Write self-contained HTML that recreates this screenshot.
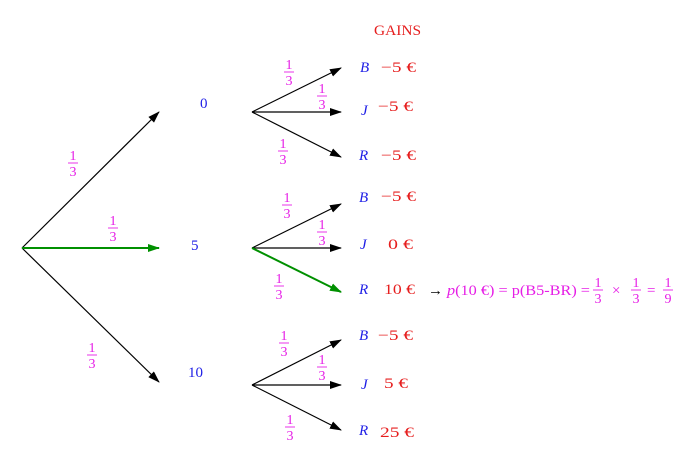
<!DOCTYPE html>
<html><head><meta charset="utf-8"><style>
html,body{margin:0;padding:0;background:#fff}
svg{display:block}
text{font-family:"Liberation Serif",serif;font-size:15px}
.m{fill:#e61ee6}.b{fill:#1e1ee6}.r{fill:#e61e1e}
.f text{font-size:14px;text-anchor:middle;fill:#e61ee6}
</style></head><body>
<svg width="689" height="456" viewBox="0 0 689 456" xmlns="http://www.w3.org/2000/svg">
<defs>
<marker id="ak" markerWidth="12" markerHeight="8" refX="11" refY="4" orient="auto" markerUnits="userSpaceOnUse"><path d="M0,0 L12,4 L0,8 Z" fill="#000"/></marker>
<marker id="ag" markerWidth="12" markerHeight="8" refX="11" refY="4" orient="auto" markerUnits="userSpaceOnUse"><path d="M0,0 L12,4 L0,8 Z" fill="#009000"/></marker>
<g id="fr" class="f"><text x="0" y="-3">1</text><line x1="-5" y1="0" x2="5" y2="0" stroke="#e61ee6" stroke-width="0.9"/><text x="0" y="13">3</text></g>
</defs>
<g stroke="#000" stroke-width="1.2" fill="none">
<line x1="22" y1="248" x2="159" y2="112" marker-end="url(#ak)"/>
<line x1="22" y1="248" x2="159" y2="382" marker-end="url(#ak)"/>
<line x1="252" y1="112" x2="341" y2="68" marker-end="url(#ak)"/>
<line x1="252" y1="112" x2="341" y2="112" marker-end="url(#ak)"/>
<line x1="252" y1="112" x2="341" y2="157" marker-end="url(#ak)"/>
<line x1="252" y1="248" x2="341" y2="204" marker-end="url(#ak)"/>
<line x1="252" y1="248" x2="341" y2="248" marker-end="url(#ak)"/>
<line x1="252" y1="385" x2="341" y2="340" marker-end="url(#ak)"/>
<line x1="252" y1="385" x2="341" y2="385" marker-end="url(#ak)"/>
<line x1="252" y1="385" x2="341" y2="430" marker-end="url(#ak)"/>
</g>
<g stroke="#009000" stroke-width="2" fill="none">
<line x1="22" y1="248" x2="159" y2="248" marker-end="url(#ag)"/>
<line x1="252" y1="248" x2="341" y2="292" marker-end="url(#ag)"/>
</g>
<use href="#fr" x="73" y="163"/>
<use href="#fr" x="113" y="228"/>
<use href="#fr" x="92" y="355"/>
<use href="#fr" x="289" y="72"/>
<use href="#fr" x="322" y="96"/>
<use href="#fr" x="283" y="151"/>
<use href="#fr" x="287" y="205"/>
<use href="#fr" x="322" y="232"/>
<use href="#fr" x="279" y="286"/>
<use href="#fr" x="284" y="343"/>
<use href="#fr" x="322" y="367"/>
<use href="#fr" x="290" y="427"/>
<text class="b" x="200" y="108" font-size="16">0</text>
<text class="b" x="191" y="250" font-size="16">5</text>
<text class="b" x="188" y="377" font-size="16">10</text>
<text class="r" x="374" y="35" textLength="47" lengthAdjust="spacingAndGlyphs" font-size="16">GAINS</text>
<g class="b">
<text x="360" y="72" font-style="italic" font-size="16">B</text>
<text x="361" y="115" font-style="italic" font-size="16">J</text>
<text x="359" y="160" font-style="italic" font-size="16">R</text>
<text x="359" y="202" font-style="italic" font-size="16">B</text>
<text x="360" y="249" font-style="italic" font-size="16">J</text>
<text x="359" y="294" font-style="italic" font-size="16">R</text>
<text x="359" y="340" font-style="italic" font-size="16">B</text>
<text x="361" y="389" font-style="italic" font-size="16">J</text>
<text x="359" y="435" font-style="italic" font-size="16">R</text>
</g>
<g class="r">
<text x="381" y="72" textLength="35" lengthAdjust="spacingAndGlyphs">−5 €</text>
<text x="378" y="111" textLength="35" lengthAdjust="spacingAndGlyphs">−5 €</text>
<text x="381" y="160" textLength="35" lengthAdjust="spacingAndGlyphs">−5 €</text>
<text x="381" y="201" textLength="35" lengthAdjust="spacingAndGlyphs">−5 €</text>
<text x="388" y="249" textLength="25" lengthAdjust="spacingAndGlyphs">0 €</text>
<text x="384" y="294" textLength="31" lengthAdjust="spacingAndGlyphs">10 €</text>
<text x="378" y="340" textLength="35" lengthAdjust="spacingAndGlyphs">−5 €</text>
<text x="384" y="388" textLength="24" lengthAdjust="spacingAndGlyphs">5 €</text>
<text x="380" y="437" textLength="34" lengthAdjust="spacingAndGlyphs">25 €</text>
</g>
<text x="428" y="295" fill="#000">→</text>
<text class="m" x="447" y="295" textLength="143" lengthAdjust="spacingAndGlyphs"><tspan font-style="italic">p</tspan>(10 €) = p(B5-BR) =</text>
<use href="#fr" x="598" y="290"/>
<text class="m" x="612" y="295">×</text>
<use href="#fr" x="636" y="290"/>
<text class="m" x="647" y="295">=</text>
<g class="f"><text x="668" y="287">1</text><line x1="663" y1="290" x2="673" y2="290" stroke="#e61ee6" stroke-width="0.9"/><text x="668" y="303">9</text></g>
</svg>
</body></html>
